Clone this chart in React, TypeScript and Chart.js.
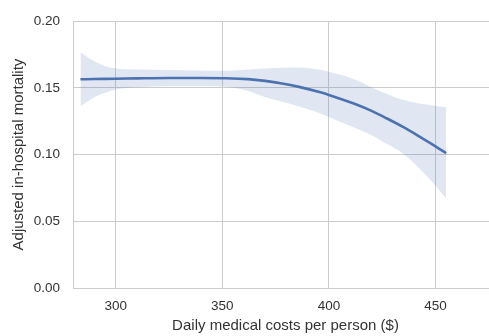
import React, { useEffect, useRef } from "react";
import { Chart, registerables } from "chart.js";

Chart.register(...registerables);

// Daily medical costs per person ($)
const costX = [283.5, 290, 300, 310, 325, 340, 350, 362, 370, 378, 386, 396, 400, 412, 420, 427, 435, 443, 450, 455];
// Adjusted in-hospital mortality (fitted curve)
const mortality = [0.1564, 0.1566, 0.1568, 0.1571, 0.1574, 0.1574, 0.1572, 0.1565, 0.1552, 0.1533, 0.1507, 0.1466, 0.1447, 0.138, 0.1327, 0.1272, 0.1205, 0.113, 0.1062, 0.101];
// Confidence band
const ciUpper = [0.1766, 0.17, 0.1645, 0.1638, 0.1633, 0.163, 0.1628, 0.1638, 0.1645, 0.165, 0.1652, 0.1635, 0.162, 0.1565, 0.1505, 0.1455, 0.1408, 0.138, 0.1365, 0.1355];
const ciLower = [0.1362, 0.143, 0.1488, 0.1505, 0.1512, 0.1512, 0.151, 0.1477, 0.1432, 0.1395, 0.136, 0.1308, 0.1282, 0.12, 0.1145, 0.108, 0.1005, 0.0887, 0.0767, 0.067];

const xTickValues = [300, 350, 400, 450];
const xTitle = "Daily medical costs per person ($)";
const yTitle = "Adjusted in-hospital mortality";

const pts = (ys: number[]) => costX.map((x, i) => ({ x, y: ys[i] }));

export default function App() {
  const ref = useRef<HTMLCanvasElement | null>(null);

  useEffect(() => {
    if (!ref.current) return;
    const grid = "#cccccc";
    const font = "'Liberation Sans', Arial, sans-serif";
    const chart = new Chart(ref.current, {
      type: "line",
      data: {
        datasets: [
          {
            data: pts(mortality),
            borderColor: "#4c72b0",
            borderWidth: 2.6,
            pointRadius: 0,
            cubicInterpolationMode: "monotone",
            fill: false,
          },
          {
            data: pts(ciUpper),
            borderWidth: 0,
            borderColor: "rgba(0,0,0,0)",
            backgroundColor: "rgba(76,114,176,0.17)",
            pointRadius: 0,
            cubicInterpolationMode: "monotone",
            fill: "+1",
          },
          {
            data: pts(ciLower),
            borderWidth: 0,
            borderColor: "rgba(0,0,0,0)",
            pointRadius: 0,
            cubicInterpolationMode: "monotone",
            fill: false,
          },
        ],
      },
      options: {
        animation: false,
        responsive: false,
        devicePixelRatio: 1,
        events: [],
        layout: { padding: { top: 13, right: 2, left: 0, bottom: 0 } },
        plugins: { legend: { display: false }, tooltip: { enabled: false } },
        scales: {
          x: {
            type: "linear",
            min: 280,
            max: 479.3,
            afterBuildTicks: (s: any) => {
              s.ticks = xTickValues.map((v) => ({ value: v }));
            },
            afterFit: (s: any) => {
              s.height = 48;
            },
            grid: { color: grid, lineWidth: 1, drawTicks: false },
            border: { color: grid, width: 1 },
            ticks: {
              padding: 10.5,
              color: "#333",
              font: { family: font, size: 13.5 },
              callback: (v: any) => String(v),
            },
            title: {
              display: true,
              text: xTitle,
              color: "#333",
              font: { family: font, size: 15 },
              padding: { top: 0, bottom: 1 },
            },
          },
          y: {
            type: "linear",
            min: 0,
            max: 0.2,
            afterFit: (s: any) => {
              s.width = 73;
            },
            grid: { color: grid, lineWidth: 1, drawTicks: false },
            border: { color: grid, width: 1 },
            ticks: {
              stepSize: 0.05,
              padding: 13,
              color: "#333",
              font: { family: font, size: 13.5 },
              callback: (v: any) => Number(v).toFixed(2),
            },
            title: {
              display: true,
              text: yTitle,
              color: "#333",
              font: { family: font, size: 15 },
              padding: { top: 10, bottom: 0 },
            },
          },
        },
      },
    });
    return () => chart.destroy();
  }, []);

  return (
    <div style={{ position: "absolute", left: 0, top: 0, width: 489, height: 336, overflow: "hidden", background: "#fff" }}>
      <canvas ref={ref} width={500} height={336} style={{ display: "block", width: 500, height: 336 }} />
    </div>
  );
}
